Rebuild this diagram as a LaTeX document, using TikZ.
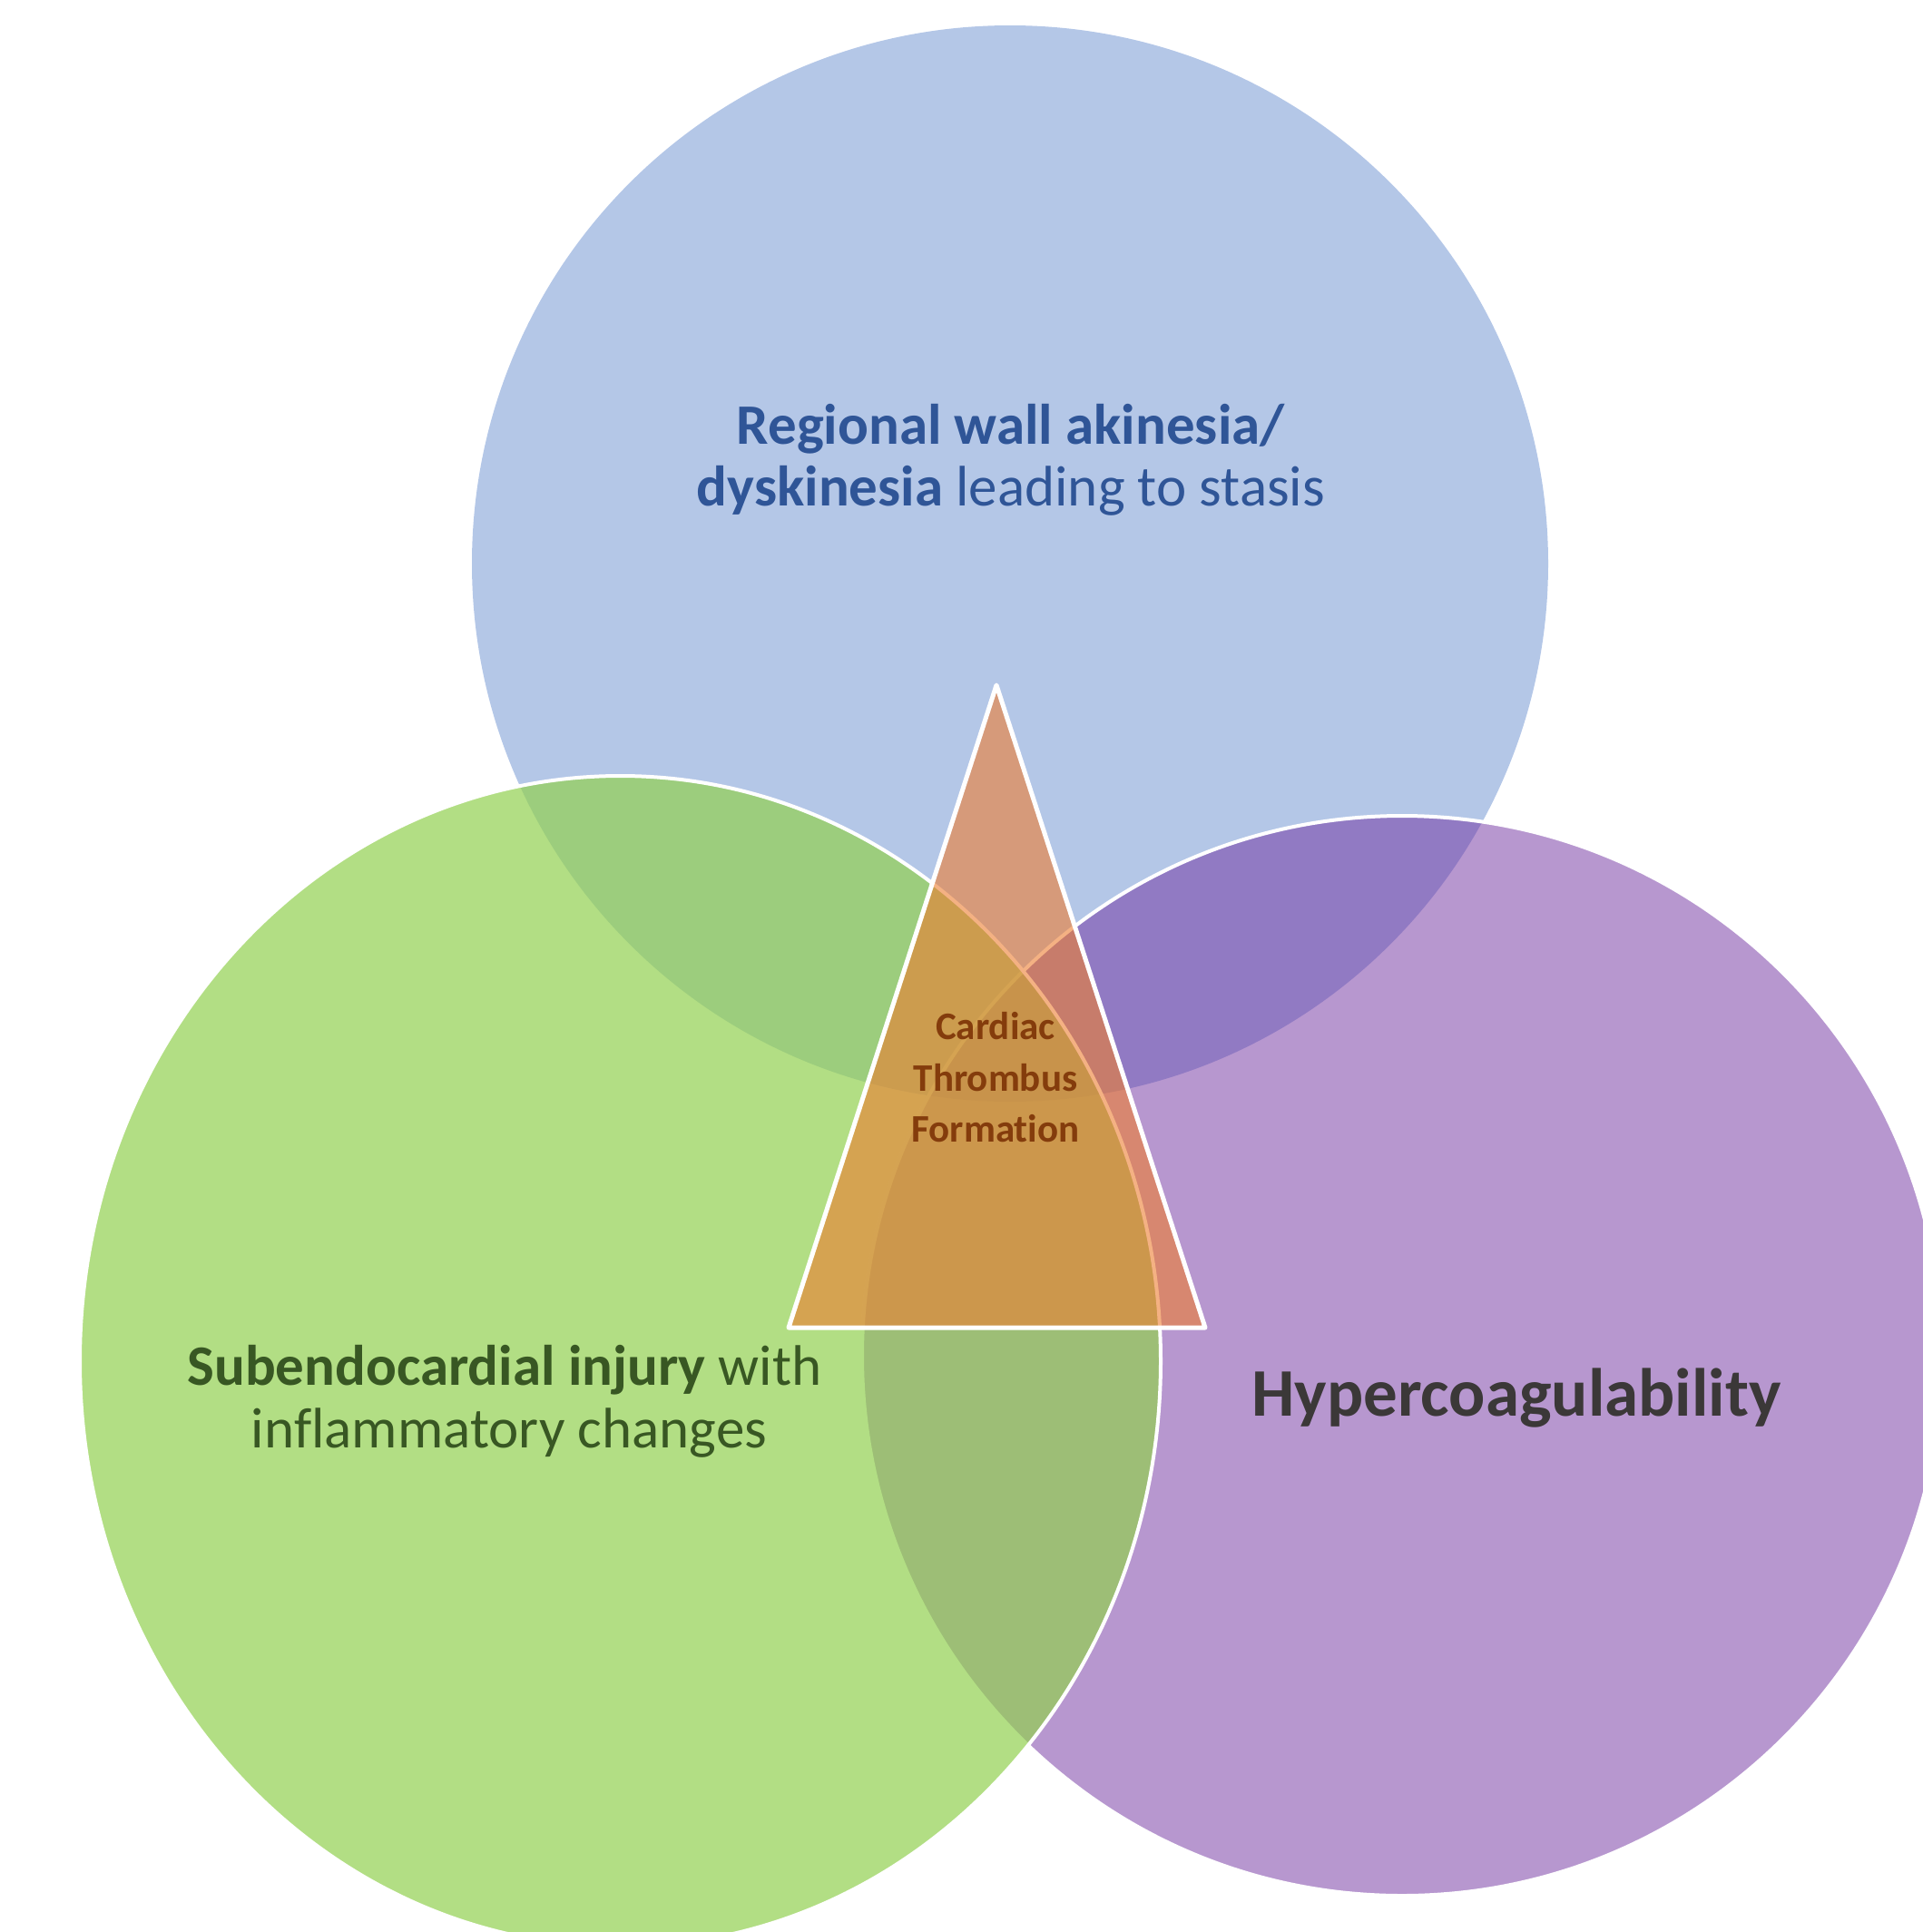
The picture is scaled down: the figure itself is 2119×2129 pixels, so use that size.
\documentclass[tikz,border=0pt]{standalone}
\usepackage{fontspec}
\setmainfont{Carlito}[Ligatures=NoCommon]
\definecolor{setblue}{HTML}{4472C4}
\definecolor{setgreen}{HTML}{92D050}
\definecolor{setpurple}{HTML}{7030A0}
\definecolor{setorange}{HTML}{ED7D31}
\definecolor{bluetext}{HTML}{2F5597}
\definecolor{greentext}{HTML}{385723}
\definecolor{graytext}{HTML}{3B3838}
\definecolor{coretext}{HTML}{843C0C}
\begin{document}
\begin{tikzpicture}[x=1pt,y=-1pt,
  rim/.style={draw=white, line width=4pt},
  stasislbl/.style={anchor=base, inner sep=0pt, text=bluetext, font=\fontsize{63pt}{68pt}\selectfont},
  injurylbl/.style={anchor=base, inner sep=0pt, text=greentext, font=\fontsize{63pt}{69pt}\selectfont},
  coaglbl/.style={anchor=base, inner sep=0pt, text=graytext, font=\fontsize{75pt}{80pt}\selectfont\bfseries},
  corelbl/.style={anchor=base, inner sep=0pt, text=coretext, font=\fontsize{43pt}{56pt}\selectfont\bfseries}]
\useasboundingbox (0,0) rectangle (2119,2129);
\clip (0,0) rectangle (2119,2129);
% the three overlapping sets
\fill[setblue, fill opacity=0.4] (1113,621) circle [radius=593];
\path[rim, fill=setpurple, fill opacity=0.5] (1545,1494) circle [radius=595];
\path[rim, fill=setgreen, fill opacity=0.7] (683.5,1500) ellipse [x radius=595.5, y radius=645];
% central triangle
\path[draw=white, line width=5pt, line join=round, fill=setorange, fill opacity=0.6]
  (1098,755) -- (1328,1463) -- (869,1463) -- cycle;
% labels
\node[stasislbl] (stasisA) at (1114,489) {\textbf{Regional wall akinesia/}};
\node[stasislbl] (stasisB) at (1114,557) {\textbf{dyskinesia} leading to stasis};
\node[injurylbl] (injuryA) at (556,1526) {\textbf{Subendocardial injury} with};
\node[injurylbl] (injuryB) at (561,1595) {inflammatory changes};
\node[coaglbl] (coag) at (1671,1560) {Hypercoagulability};
\node[corelbl] (coreA) at (1097,1145) {Cardiac};
\node[corelbl] (coreB) at (1097,1202) {Thrombus};
\node[corelbl] (coreC) at (1097,1258) {Formation};
\end{tikzpicture}
\end{document}
